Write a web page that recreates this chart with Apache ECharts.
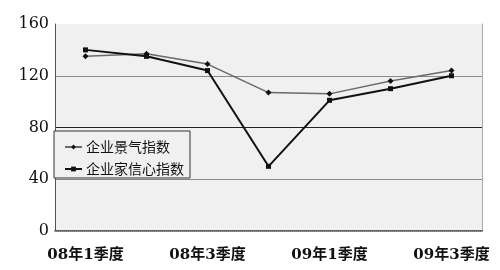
<!DOCTYPE html>
<html><head><meta charset="utf-8">
<script src="https://cdn.jsdelivr.net/npm/echarts@6/dist/echarts.min.js"></script>
<style>html,body{margin:0;padding:0;background:#fff}#c{width:500px;height:270px}</style>
</head><body><div id="c"></div>
<script>
const categories = ['08年1季度','08年2季度','08年3季度','08年4季度','09年1季度','09年2季度','09年3季度'];
const jingqi = [135, 137, 129, 107, 106, 116, 124];
const xinxin = [140, 135, 124, 50, 101, 110, 120];
const yTicks = [0, 40, 80, 120, 160];
const seriesNames = ['企业景气指数', '企业家信心指数'];

const chart = echarts.init(document.getElementById('c'), null, {renderer: 'canvas'});
const serif = '"DejaVu Serif","Noto Sans CJK SC",serif';
chart.setOption({
  animation: false,
  backgroundColor: '#fff',
  grid: {left: 55, right: 18, top: 24, bottom: 39, show: true, backgroundColor: '#f0f0f0', borderWidth: 0},
  legend: {
    orient: 'vertical', left: 54, top: 131,
    backgroundColor: '#f0f0f0', borderColor: '#333', borderWidth: 1,
    padding: [9, 6, 2, 10], itemGap: 8, itemWidth: 17, itemHeight: 6,
    textStyle: {fontFamily: '"Noto Sans CJK SC"', fontSize: 14, color: '#111', padding: [0, 0, 0, -1]},
    data: seriesNames
  },
  xAxis: [{
    type: 'category', data: categories, boundaryGap: true,
    axisLine: {lineStyle: {color: '#333', width: 1.5}},
    axisTick: {inside: true, length: 4, lineStyle: {color: '#333'}},
    axisLabel: {interval: 1, margin: 17, fontSize: 15, fontWeight: 'bold', color: '#111', fontFamily: serif}
  }, {
    type: 'category', data: categories, position: 'top',
    axisLine: {lineStyle: {color: '#999', type: 'dotted'}},
    axisTick: {show: false}, axisLabel: {show: false}
  }],
  yAxis: [{
    type: 'value', min: 0, max: 160, interval: 40,
    axisLine: {show: true, lineStyle: {color: '#555', width: 1}},
    axisTick: {show: false},
    axisLabel: {margin: 6, fontSize: 16, color: '#111', fontFamily: serif,
      formatter: v => yTicks.includes(v) ? String(v) : ''},
    splitLine: {show: true, showMaxLine: false, lineStyle: {color: ['#333', '#888', '#222', '#888', '#999'], width: 1}}
  }, {
    type: 'value', min: 0, max: 160, interval: 40, position: 'right',
    axisLine: {show: true, lineStyle: {color: '#999', type: 'dotted'}},
    axisTick: {show: false}, axisLabel: {show: false}, splitLine: {show: false}
  }],
  series: [{
    name: seriesNames[0], type: 'line', data: jingqi,
    symbol: 'diamond', symbolSize: 6, showAllSymbol: true,
    lineStyle: {color: '#6a6a6a', width: 1.5},
    itemStyle: {color: '#111'}
  }, {
    name: seriesNames[1], type: 'line', data: xinxin,
    symbol: 'rect', symbolSize: 5, showAllSymbol: true,
    lineStyle: {color: '#111', width: 2},
    itemStyle: {color: '#111'}
  }]
});
</script></body></html>
